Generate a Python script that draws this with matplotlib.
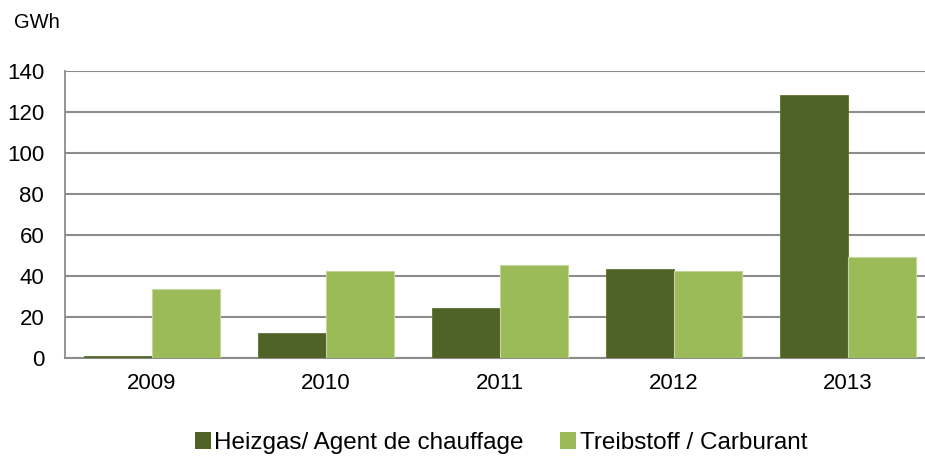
import numpy as np
import matplotlib.pyplot as plt
from matplotlib.patches import Patch

plt.rcParams["font.family"] = ["Liberation Sans", "DejaVu Sans"]

years = ["2009", "2010", "2011", "2012", "2013"]
heizgas = [0.8, 12.2, 24.4, 43.4, 128.5]
treibstoff = [33.7, 42.4, 45.4, 42.4, 48.9]

dark = "#4F6228"
light = "#9BBB59"
grid_col = "#8C8C8C"

fig = plt.figure(figsize=(9.25, 4.59), dpi=100)
W, H = 925, 459
ax = fig.add_axes([65 / W, 1 - 357.5 / H, 1 - 65 / W, (357.5 - 71) / H])

x = np.arange(len(years))
w = 68 / 174
ax.bar(x - w / 2, heizgas, w, color=dark, edgecolor="#5E7232", linewidth=0.6,
       zorder=3)
ax.bar(x + w / 2, treibstoff, w, color=light, edgecolor="#C3D69B", linewidth=0.8,
       zorder=3)

ax.set_xlim(-0.5, 4.5 - 10 / 174)
ax.set_ylim(0, 140)
ax.set_yticks(range(0, 141, 20))
ax.set_xticks(x)
ax.set_xticklabels(years)
ax.yaxis.grid(True, color=grid_col, linewidth=1.5, zorder=0)
ax.set_axisbelow(True)

for s in ["top", "right"]:
    ax.spines[s].set_visible(False)
ax.spines["left"].set_color(grid_col)
ax.spines["bottom"].set_color(grid_col)
ax.spines["left"].set_linewidth(1.3)
ax.spines["bottom"].set_linewidth(1.5)
ax.tick_params(axis="both", length=0, labelsize=16, colors="black")
ax.tick_params(axis="y", pad=15)
ax.tick_params(axis="x", pad=11)

fig.text(14 / W, 1 - 22 / H, "GWh", fontsize=14.5, va="center", ha="left")

handles = [Patch(facecolor=dark), Patch(facecolor=light)]
fig.legend(handles, ["Heizgas/ Agent de chauffage", "Treibstoff / Carburant"],
           loc="center", bbox_to_anchor=(501 / W, 1 - 443 / H), ncol=2,
           frameon=False, fontsize=17.5, handlelength=0.65, handleheight=0.65,
           handletextpad=0.15, columnspacing=1.5)

fig.savefig("out.png", dpi=100)
